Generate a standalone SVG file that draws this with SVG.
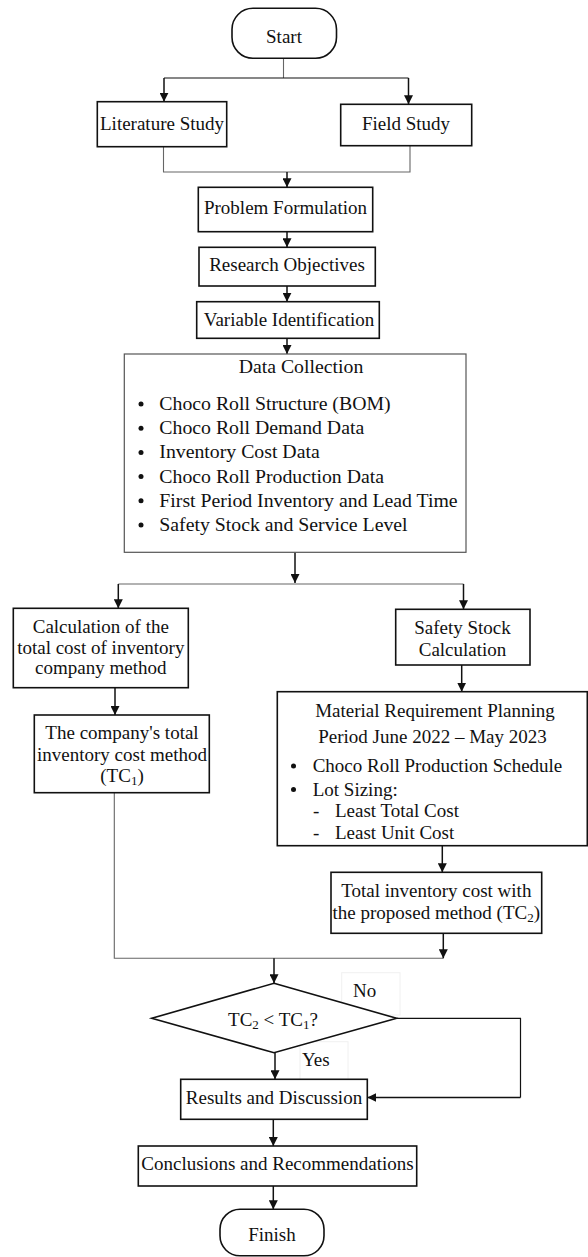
<svg xmlns="http://www.w3.org/2000/svg" width="588" height="1257" viewBox="0 0 588 1257">
<style>
text{font-family:"Liberation Serif","Times New Roman",serif;font-size:19px;fill:#111}
.c{text-anchor:middle}
.big{font-size:19.8px}
.box{fill:#fff;stroke:#111;stroke-width:1.6}
.thin{fill:#fff;stroke:#555;stroke-width:1.2}
.arr{fill:none;stroke:#111;stroke-width:1.5;marker-end:url(#ah)}
.ln{fill:none;stroke:#666;stroke-width:1.1}
.blk{fill:none;stroke:#111;stroke-width:1.2}
.faint{fill:none;stroke:#f0f0f0;stroke-width:1}
.sub{font-size:13px}
</style>
<defs>
<marker id="ah" viewBox="0 0 10 10" refX="10" refY="5" markerWidth="9" markerHeight="9" markerUnits="userSpaceOnUse" orient="auto">
<path d="M0,0 L10,5 L0,10 z" fill="#111"/>
</marker>
</defs>
<g id="connectors">
<path class="ln" d="M283.5,58 V78"/>
<path class="blk" d="M164,78 H408.5"/>
<path class="arr" d="M164,78 V101.7"/>
<path class="arr" d="M408.5,78 V104.3"/>
<path class="ln" d="M163.5,146.7 V172 H410 V145.7"/>
<path class="arr" d="M287,172 V187.3"/>
<path class="arr" d="M287,231.7 V247.3"/>
<path class="arr" d="M287,286 V301.7"/>
<path class="arr" d="M287,338.3 V354"/>
<path class="arr" d="M295,552.3 V583"/>
<path class="ln" d="M118.3,584 H463.5"/>
<path class="arr" d="M118.3,584 V608.3"/>
<path class="arr" d="M463.5,584 V609.3"/>
<path class="arr" d="M115,687.7 V715"/>
<path class="ln" d="M114.3,792.7 V958.3 H443.3"/>
<path class="arr" d="M461.7,665 V691.7"/>
<path class="arr" d="M442.3,845.7 V872.3"/>
<path class="arr" d="M443.3,933.3 V958.3"/>
<path class="arr" d="M274,958.3 V983.3"/>
<path class="blk" d="M396.7,1018.3 H520.5 V1097.5"/>
<path class="arr" d="M520.5,1097.5 H367.3"/>
<path class="arr" d="M275,1052.7 V1079.3"/>
<path class="arr" d="M273.3,1119.3 V1146"/>
<path class="arr" d="M273.3,1186 V1209.3"/>
<rect class="faint" x="341.7" y="972.7" width="58.3" height="42.3"/>
<rect class="faint" x="300" y="1041.7" width="48" height="48.3"/>
<text x="353" y="997">No</text>
<text x="302" y="1066">Yes</text>
</g>
<g id="start">
<rect class="box" x="232" y="8.3" width="104.5" height="50" rx="21"/>
<text class="c" x="284" y="42.5">Start</text>
</g>
<g id="literature">
<rect class="box" x="97.3" y="101.7" width="129.4" height="45"/>
<text class="c" x="162" y="129.5">Literature Study</text>
</g>
<g id="field">
<rect class="box" x="340.7" y="104.3" width="131" height="41.4"/>
<text class="c" x="406" y="129.5">Field Study</text>
</g>
<g id="problem">
<rect class="box" x="198.3" y="187.3" width="174.4" height="44.4"/>
<text class="c" x="285.5" y="213.5">Problem Formulation</text>
</g>
<g id="objectives">
<rect class="box" x="199" y="247.3" width="176.3" height="38.7"/>
<text class="c" x="287" y="270.7">Research Objectives</text>
</g>
<g id="variable">
<rect class="box" x="196.7" y="301.7" width="182.6" height="36.6"/>
<text class="c" x="289" y="326">Variable Identification</text>
</g>
<g id="data">
<rect class="thin" x="124.3" y="354" width="341.7" height="198.3"/>
<text class="c big" x="301" y="373.3">Data Collection</text>
<g>
<circle cx="141" cy="404" r="2.5" fill="#111"/>
<circle cx="141" cy="428.2" r="2.5" fill="#111"/>
<circle cx="141" cy="452.4" r="2.5" fill="#111"/>
<circle cx="141" cy="476.6" r="2.5" fill="#111"/>
<circle cx="141" cy="500.8" r="2.5" fill="#111"/>
<circle cx="141" cy="525" r="2.5" fill="#111"/>
</g>
<text class="big" x="159.3" y="410">Choco Roll Structure (BOM)</text>
<text class="big" x="159.3" y="434.2">Choco Roll Demand Data</text>
<text class="big" x="159.3" y="458.4">Inventory Cost Data</text>
<text class="big" x="159.3" y="482.6">Choco Roll Production Data</text>
<text class="big" x="159.3" y="506.8">First Period Inventory and Lead Time</text>
<text class="big" x="159.3" y="531">Safety Stock and Service Level</text>
</g>
<g id="calc">
<rect class="box" x="13.3" y="608.3" width="175" height="79.4"/>
<text class="c" x="100.8" y="632.5">Calculation of the</text>
<text class="c" x="100.8" y="653.5">total cost of inventory</text>
<text class="c" x="100.8" y="674">company method</text>
</g>
<g id="company">
<rect class="box" x="34.3" y="715" width="175" height="77.7"/>
<text class="c" x="122" y="739.3">The company's total</text>
<text class="c" x="122" y="760.7">inventory cost method</text>
<text class="c" x="122" y="782">(TC<tspan class="sub" dy="3">1</tspan><tspan dy="-3">)</tspan></text>
</g>
<g id="safety">
<rect class="box" x="395.7" y="609.3" width="134.3" height="55.7"/>
<text class="c" x="462.5" y="634">Safety Stock</text>
<text class="c" x="462.5" y="655.5">Calculation</text>
</g>
<g id="mrp">
<rect class="box" x="277.3" y="691.7" width="310" height="154"/>
<text class="c" x="435" y="716.5">Material Requirement Planning</text>
<text class="c" x="432.5" y="743">Period June 2022 – May 2023</text>
<circle cx="293.5" cy="766" r="2.5" fill="#111"/>
<circle cx="293.5" cy="789.5" r="2.5" fill="#111"/>
<text x="312.7" y="772">Choco Roll Production Schedule</text>
<text x="312.7" y="795.5">Lot Sizing:</text>
<text x="313" y="817">-</text>
<text x="335" y="817">Least Total Cost</text>
<text x="313" y="838.5">-</text>
<text x="335" y="838.5">Least Unit Cost</text>
</g>
<g id="proposed">
<rect class="box" x="331" y="872.3" width="210.7" height="61"/>
<text class="c" x="436.3" y="896.5">Total inventory cost with</text>
<text class="c" x="436.3" y="919">the proposed method (TC<tspan class="sub" dy="3">2</tspan><tspan dy="-3">)</tspan></text>
</g>
<g id="decision">
<path class="box" d="M274,983.3 L396.7,1018.3 L274,1052.7 L151.7,1018.3 Z"/>
<text class="c" x="273" y="1025.5">TC<tspan class="sub" dy="3">2</tspan><tspan dy="-3"> &lt; TC</tspan><tspan class="sub" dy="3">1</tspan><tspan dy="-3">?</tspan></text>
</g>
<g id="results">
<rect class="box" x="180.7" y="1079.3" width="186.6" height="40"/>
<text class="c" x="274" y="1104">Results and Discussion</text>
</g>
<g id="conclusions">
<rect class="box" x="138.3" y="1146" width="278.4" height="40"/>
<text class="c" x="277.5" y="1170">Conclusions and Recommendations</text>
</g>
<g id="finish">
<rect class="box" x="220" y="1209.3" width="104" height="46.5" rx="20"/>
<text class="c" x="272" y="1240.5">Finish</text>
</g>
</svg>
